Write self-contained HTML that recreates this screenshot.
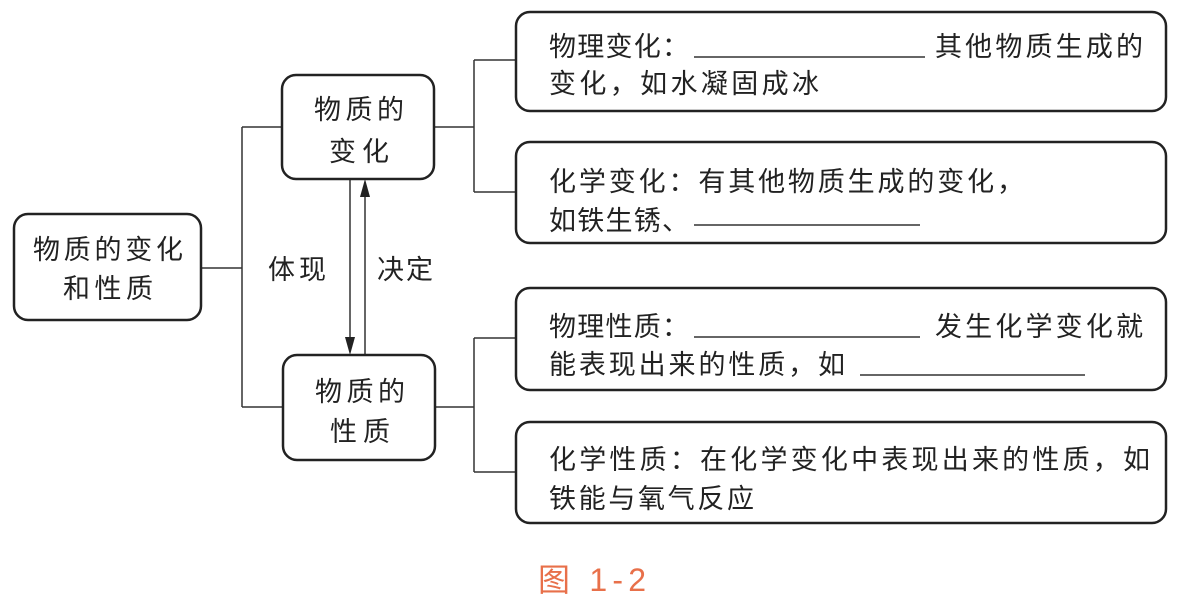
<!DOCTYPE html>
<html><head><meta charset="utf-8"><style>
html,body{margin:0;padding:0;background:#fff;width:1185px;height:597px;overflow:hidden}
svg{display:block}
text{font-family:"Liberation Sans","Noto Sans CJK SC",sans-serif;font-size:27px;fill:#222}
</style></head><body>
<svg width="1185" height="597" viewBox="0 0 1185 597">
<g fill="none" stroke="#333" stroke-width="1.5">
<path d="M201 268H242M242 127V407M242 127H282M242 407H283"/>
<path d="M434 127H474M474 60V192M474 60H516M474 192H516"/>
<path d="M435 407H474M474 338V472M474 338H516M474 472H516"/>
<line x1="350" y1="179" x2="350" y2="340"/>
<line x1="365" y1="355" x2="365" y2="194"/>
</g>
<polygon points="350,355 345,337 355,337" fill="#222"/>
<polygon points="365,179 360,197 370,197" fill="#222"/>
<g fill="#fff" stroke="#222" stroke-width="2.5">
<rect x="14" y="214" width="187" height="106" rx="14"/>
<rect x="282" y="75" width="152" height="104" rx="14"/>
<rect x="283" y="355" width="152" height="105" rx="14"/>
<rect x="516" y="12" width="650" height="99" rx="14"/>
<rect x="516" y="142" width="650" height="101" rx="14"/>
<rect x="516" y="288" width="650" height="102" rx="14"/>
<rect x="516" y="422" width="650" height="101" rx="14"/>
</g>
<g stroke="#333" stroke-width="1.5">
<line x1="694" y1="57" x2="925" y2="57"/>
<line x1="694" y1="225" x2="920" y2="225"/>
<line x1="694" y1="337" x2="920" y2="337"/>
<line x1="860" y1="375" x2="1085" y2="375"/>
</g>
<text x="33" y="259" textLength="150">物质的变化</text>
<text x="63" y="298" textLength="90">和性质</text>
<text x="314" y="119" textLength="90">物质的</text>
<text x="329" y="161" textLength="60">变化</text>
<text x="315" y="401" textLength="90">物质的</text>
<text x="330" y="441" textLength="60">性质</text>
<text x="268" y="279" textLength="58">体现</text>
<text x="377" y="279" textLength="56">决定</text>
<text x="549" y="56" textLength="140">物理变化：</text>
<text x="935" y="56" textLength="208">其他物质生成的</text>
<text x="549" y="93" textLength="270">变化，如水凝固成冰</text>
<text x="549" y="191" textLength="475">化学变化：有其他物质生成的变化，</text>
<text x="549" y="230" textLength="140">如铁生锈、</text>
<text x="549" y="336" textLength="140">物理性质：</text>
<text x="935" y="336" textLength="208">发生化学变化就</text>
<text x="549" y="374" textLength="296">能表现出来的性质，如</text>
<text x="549" y="469" textLength="601">化学性质：在化学变化中表现出来的性质，如</text>
<text x="549" y="508" textLength="205">铁能与氧气反应</text>
<text x="538" y="591" style="fill:#e8704a;font-size:32px" textLength="108">图 1-2</text>
</svg>
</body></html>
